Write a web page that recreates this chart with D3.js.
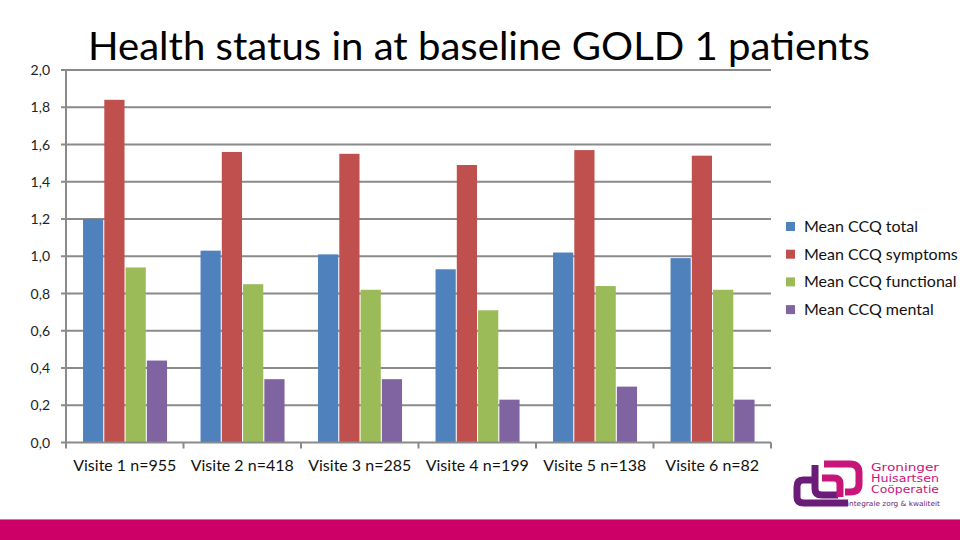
<!DOCTYPE html>
<html>
<head>
<meta charset="utf-8">
<script src="https://cdn.jsdelivr.net/npm/d3@7/dist/d3.min.js"></script>
<style>
  html, body { margin: 0; padding: 0; background: #fff; }
  svg { display: block; }
  text { font-family: Lato, "Open Sans", sans-serif; }
  text.logo { font-family: "DejaVu Sans", sans-serif; }
</style>
</head>
<body>
<svg id="chart" width="960" height="540"></svg>
<script>
const categories = ["Visite 1 n=955", "Visite 2 n=418", "Visite 3 n=285", "Visite 4 n=199", "Visite 5 n=138", "Visite 6 n=82"];
const seriesNames = ["Mean CCQ total", "Mean CCQ symptoms", "Mean CCQ functional", "Mean CCQ mental"];
const totalValues = [1.20, 1.03, 1.01, 0.93, 1.02, 0.99];
const symptomsValues = [1.84, 1.56, 1.55, 1.49, 1.57, 1.54];
const functionalValues = [0.94, 0.85, 0.82, 0.71, 0.84, 0.82];
const mentalValues = [0.44, 0.34, 0.34, 0.23, 0.30, 0.23];
const yTicks = [0, 0.2, 0.4, 0.6, 0.8, 1.0, 1.2, 1.4, 1.6, 1.8, 2.0];
const colors = ["#4F81BD", "#C0504D", "#9BBB59", "#8064A2"];
const titleText = "Health status in at baseline GOLD 1 patients";

const seriesValues = [totalValues, symptomsValues, functionalValues, mentalValues];
const svg = d3.select("#chart");

const plotL = 66, plotR = 771, plotT = 70, plotB = 442.5;
const y = d3.scaleLinear().domain([0, 2]).range([plotB, plotT]);
const x0 = d3.scaleBand().domain(categories).range([plotL, plotR]).padding(0);
const bw = x0.bandwidth();
const x1 = d3.scaleBand().domain(seriesNames).range([bw * 0.145, bw * 0.86]).paddingInner(0.05);

const gridColor = "#8a8a8a";

// gridlines
svg.append("g").selectAll("line").data(yTicks.filter(d => d > 0)).join("line")
  .attr("x1", plotL - 5).attr("x2", plotR)
  .attr("y1", d => y(d)).attr("y2", d => y(d))
  .attr("stroke", gridColor).attr("stroke-width", 2);

// y axis line
svg.append("line").attr("x1", plotL).attr("x2", plotL).attr("y1", plotT).attr("y2", plotB)
  .attr("stroke", gridColor).attr("stroke-width", 2);

// y labels
const fmt = d => d.toFixed(1).replace(".", ",");
svg.append("g").selectAll("text").data(yTicks).join("text")
  .attr("x", 50).attr("y", d => y(d) + 5)
  .attr("text-anchor", "end")
  .attr("font-size", 14).attr("fill", "#222")
  .text(fmt);

// bars
const g = svg.append("g");
categories.forEach((c, i) => {
  seriesNames.forEach((s, j) => {
    const v = seriesValues[j][i];
    g.append("rect")
      .attr("x", x0(c) + x1(s))
      .attr("y", y(v))
      .attr("width", x1.bandwidth())
      .attr("height", y(0) - y(v))
      .attr("fill", colors[j]);
  });
});

// x axis line + ticks
svg.append("line").attr("x1", plotL - 5).attr("x2", plotR).attr("y1", plotB).attr("y2", plotB)
  .attr("stroke", gridColor).attr("stroke-width", 2);
const tickXs = categories.map(c => x0(c)).concat([plotR]);
svg.append("g").selectAll("line").data(tickXs).join("line")
  .attr("x1", d => d).attr("x2", d => d)
  .attr("y1", plotB).attr("y2", plotB + 6)
  .attr("stroke", gridColor).attr("stroke-width", 2);

// category labels
svg.append("g").selectAll("text").data(categories).join("text")
  .attr("x", d => x0(d) + bw / 2)
  .attr("y", 471)
  .attr("text-anchor", "middle")
  .attr("font-size", 16).attr("fill", "#111")
  .text(d => d);

// title
svg.append("text")
  .attr("x", 88).attr("y", 60)
  .attr("font-size", 39)
  .attr("textLength", 782).attr("lengthAdjust", "spacingAndGlyphs")
  .attr("fill", "#000")
  .text(titleText);

// legend
const legend = svg.append("g");
seriesNames.forEach((s, j) => {
  const ly = 227 + j * 27.7;
  legend.append("rect").attr("x", 786).attr("y", ly - 5).attr("width", 9).attr("height", 9).attr("fill", colors[j]);
  legend.append("text").attr("x", 804).attr("y", ly + 5)
    .attr("font-size", 16).attr("fill", "#111").text(s);
});

// bottom band
svg.append("rect").attr("x", 0).attr("y", 519).attr("width", 960).attr("height", 2).attr("fill", "#e070a8");
svg.append("rect").attr("x", 0).attr("y", 520).attr("width", 960).attr("height", 20).attr("fill", "#CC0066");

// logo
const logo = svg.append("g");
const purple = "#6B1C78", magenta = "#C8157A";
logo.append("path")
  .attr("d", "M 812 480 L 803 480 Q 797 480 797 487 L 797 497 Q 797 503 804 503 L 848 503")
  .attr("fill", "none").attr("stroke", purple).attr("stroke-width", 7);
logo.append("path")
  .attr("d", "M 815 465 L 815 489 Q 815 495 822 495 L 838 495")
  .attr("fill", "none").attr("stroke", purple).attr("stroke-width", 7);
logo.append("path")
  .attr("d", "M 822 478 L 834 478 Q 840 478 840 484 L 840 497")
  .attr("fill", "none").attr("stroke", magenta).attr("stroke-width", 7);
logo.append("path")
  .attr("d", "M 824 464 L 850 464 Q 859 464 859 473 L 859 484 Q 859 492 850 492 L 845 492")
  .attr("fill", "none").attr("stroke", magenta).attr("stroke-width", 7);
["Groninger", "Huisartsen", "Coöperatie"].forEach((t, i) => {
  logo.append("text").attr("class", "logo").attr("x", 871).attr("y", 471 + i * 11)
    .attr("font-size", 10.5).attr("fill", magenta)
    .attr("textLength", 68).attr("lengthAdjust", "spacingAndGlyphs").text(t);
});
logo.append("text").attr("class", "logo").attr("x", 847).attr("y", 506)
  .attr("font-size", 7).attr("fill", purple)
  .attr("textLength", 93).attr("lengthAdjust", "spacingAndGlyphs")
  .text("integrale zorg & kwaliteit");
</script>
</body>
</html>
